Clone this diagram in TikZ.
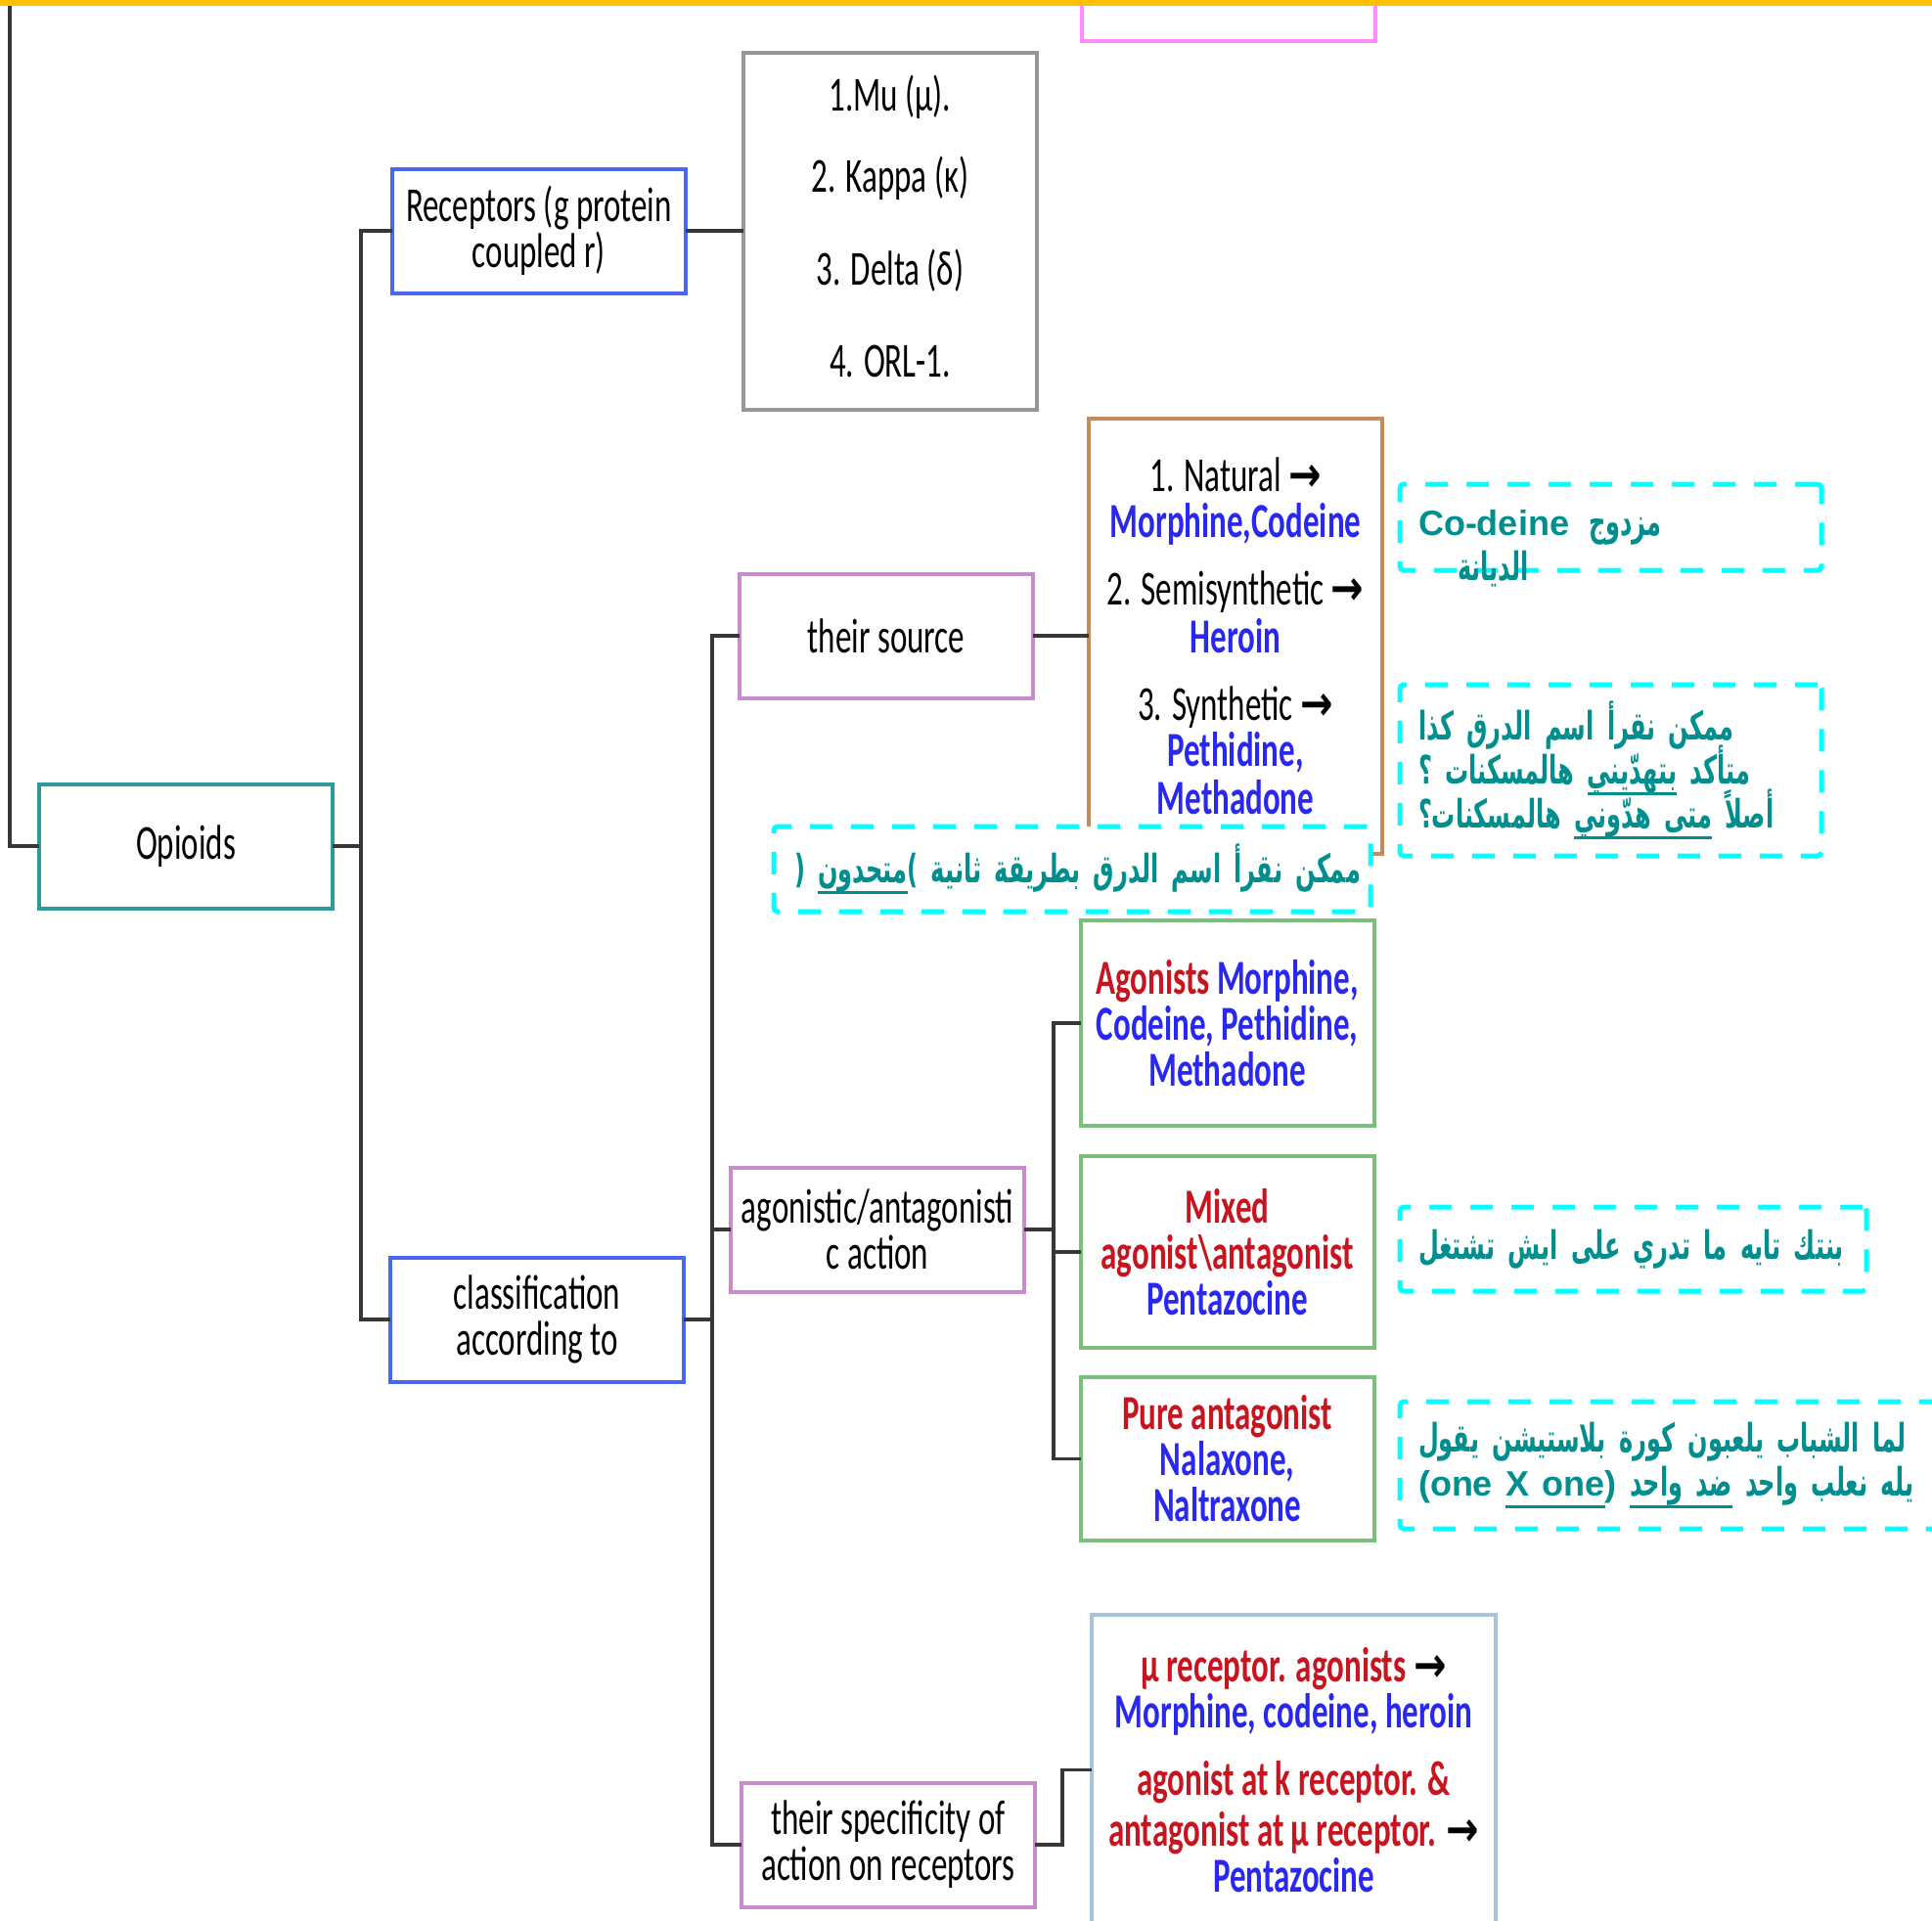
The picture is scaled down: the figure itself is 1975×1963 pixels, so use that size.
\documentclass[tikz,border=0pt]{standalone}
\usepackage{fontspec}
\usepackage{xcolor}
\usepackage{tikz}
\usetikzlibrary{positioning}
\setmainfont{Carlito}
\newfontfamily\boxfont[FakeStretch=0.66]{Carlito}
\newfontfamily\arrowfont[FakeStretch=0.8]{DejaVu Sans}
\newfontfamily\latinnote{Liberation Sans}
\newfontfamily\arabicfont[Script=Arabic, FakeStretch=0.6]{DejaVu Sans}
\TeXXeTstate=1

\definecolor{rootTeal}{RGB}{45,155,155}
\definecolor{catBlue}{RGB}{72,104,240}
\definecolor{critViolet}{RGB}{200,140,205}
\definecolor{listGray}{RGB}{150,150,150}
\definecolor{srcBrown}{RGB}{195,140,90}
\definecolor{actGreen}{RGB}{125,190,125}
\definecolor{specSteel}{RGB}{170,195,220}
\definecolor{topPink}{RGB}{255,140,255}
\definecolor{barYellow}{RGB}{255,192,0}
\definecolor{noteCyan}{RGB}{0,255,255}
\definecolor{noteTeal}{RGB}{0,142,142}
\definecolor{txtRed}{RGB}{200,20,30}
\definecolor{txtBlue}{RGB}{40,40,240}
\definecolor{linkGray}{RGB}{55,55,55}

\newcommand\boxtext{\boxfont\fontsize{50}{47}\selectfont\lineskiplimit=-60pt\relax}
\newcommand\notetextfont{\arabicfont\bfseries\fontsize{40}{45}\selectfont\lineskiplimit=-60pt\relax}
\newcommand\arr{{\arrowfont\bfseries →}}
\newcommand\effect[1]{\textcolor{txtRed}{\bfseries #1}}
\newcommand\drug[1]{\textcolor{txtBlue}{\bfseries #1}}
\newcommand\latin[1]{{\latinnote\fontsize{36}{45}\selectfont #1}}
\newcommand\up[1]{\raisebox{5pt}[\height][\depth]{#1}}
\newcommand\ulword[1]{\setbox0\hbox{#1}\vtop{\copy0\kern-\dp0\kern9pt\hrule height 3pt}}
\newcommand\rtlline[1]{\mbox{\beginR #1\endR}}

\tikzset{
    root/.style={
        rectangle, draw=rootTeal, line width=4pt,
        minimum width=300pt, minimum height=127pt,
        inner sep=4pt, outer sep=0pt, align=center, font=\boxtext
    },
    category/.style={root, draw=catBlue},
    criterion/.style={root, draw=critViolet},
    drugs/.style={
        rectangle, draw=#1, line width=4pt,
        minimum width=300pt, inner sep=4pt, outer sep=0pt,
        align=center, font=\boxtext
    },
    note/.style={
        rectangle, rounded corners=4pt, draw=noteCyan, fill=white,
        line width=5pt, dash pattern=on 23pt off 19pt,
        inner xsep=19pt, outer sep=0pt, align=left,
        text=noteTeal, font=\notetextfont
    },
    notetext/.style={inner sep=0pt, text=noteTeal, font=\notetextfont},
    link/.style={draw=linkGray, line width=3.5pt}
}

\begin{document}
\begin{tikzpicture}[x=1pt, y=-1pt]
\useasboundingbox (0,0) rectangle (1975,1963);

% Root and receptors
\node[root] (opioids) at (190,865) {Opioids};
\node[category] (receptors) at (551,236) {Receptors (g protein\\coupled r)};
\node[drugs=listGray, minimum height=365pt, right=59pt of receptors] (types)
    {\up{1.Mu (µ).}\\[36pt]\up{2. Kappa (κ)}\\[48pt]\up{3. Delta (δ)}\\[47pt]\up{4. ORL-1.}};
\node[category] (classif) at (549,1349) {classification\\according to};

% Criteria
\node[criterion] (source) at (906,650) {their source};
\node[drugs=srcBrown, minimum height=445pt, right=57pt of source] (origins)
    {1. Natural \arr\\\drug{Morphine,Codeine}\\[22pt]
     2. Semisynthetic \arr\\[2pt]\drug{Heroin}\\[22pt]
     3. Synthetic \arr\\\drug{Pethidine,}\\[2pt]\drug{Methadone}};
\node[criterion] (action) at (897,1257) {agonistic/antagonisti\\c action};
\node[drugs=actGreen, minimum height=210pt] (agonists) at (1254.5,1046)
    {\effect{Agonists} \drug{Morphine,}\\\drug{Codeine, Pethidine,}\\\drug{Methadone}};
\node[drugs=actGreen, minimum height=196pt, below=31pt of agonists] (mixed)
    {\effect{Mixed}\\\effect{agonist\textbackslash antagonist}\\\drug{Pentazocine}};
\node[drugs=actGreen, minimum height=167pt, below=30pt of mixed] (pure)
    {\effect{Pure antagonist}\\\drug{Nalaxone,}\\\drug{Naltraxone}};
\node[criterion] (specificity) at (908,1886) {their specificity of\\action on receptors};
\node[drugs=specSteel, minimum width=413pt, minimum height=317pt] (selective) at (1322.5,1809.5)
    {\effect{µ receptor. agonists} \arr\\\drug{Morphine, codeine, heroin}\\[22pt]
     \effect{agonist at k receptor. \&}\\[5pt]
     \effect{antagonist at µ receptor.} \arr\\\drug{Pentazocine}};

% Connectors
\coordinate (edge) at (10,0);
\draw[link] (edge) |- (opioids.west);
\draw[link] (opioids.east) -- ++(29,0) |- (receptors.west);
\draw[link] (opioids.east) -- ++(29,0) |- (classif.west);
\draw[link] (receptors.east) -- (types.west |- receptors.east);
\draw[link] (classif.east) -- ++(29,0) |- (source.west);
\draw[link] (classif.east) -- ++(29,0) |- (action.west);
\draw[link] (classif.east) -- ++(29,0) |- (specificity.west);
\draw[link] (source.east) -- (origins.west);
\draw[link] (action.east) -- ++(30,0) |- (agonists.west);
\draw[link] (action.east) -- ++(30,0) |- (mixed.west);
\draw[link] (action.east) -- ++(30,0) |- (pure.west);
\draw[link] (specificity.east) -- ++(28,0) |- (selective.west);

% Notes
\node[note, minimum width=431pt, text width=393pt, minimum height=88pt] (noteA) at (1646.5,539)
    {\mbox{\latin{Co-deine}\hspace{20pt}مزدوج}};
\node[notetext, anchor=base west] (noteAtail) at ([xshift=59pt, yshift=-10pt]noteA.south west) {الديانة};
\node[note, minimum width=431pt, text width=393pt, minimum height=175pt, below=117pt of noteA] (noteB)
    {\rtlline{ممكن نقرأ اسم الدرق كذا}\\
     \rtlline{متأكد \ulword{بتهدّيني} هالمسكنات ؟}\\
     \rtlline{أصلاً \ulword{\beginR متى هدّوني\endR} هالمسكنات؟}};
\node[note, minimum width=610pt, text width=568pt, minimum height=87pt] (noteC) at (1096,888.5)
    {\rtlline{ممكن نقرأ اسم الدرق بطريقة ثانية \hbox{)}\ulword{متحدون} \hbox{(}}};
\node[note, minimum width=477pt, text width=439pt, minimum height=86pt] (noteD) at (1669.5,1277)
    {\rtlline{بنتك تايه ما تدري على ايش تشتغل}};
\node[note, minimum width=600pt, text width=562pt, minimum height=130pt] (noteE) at (1731,1498)
    {\rtlline{لما الشباب يلعبون كورة بلاستيشن يقول}\\
     \rtlline{يله نعلب واحد \ulword{\beginR ضد واحد\endR} \latin{\beginL(one \ulword{X one})\endL}}};

% Top edge
\node[draw=topPink, line width=4pt, minimum width=300pt, minimum height=104pt] (topslot) at (1256,-10) {};
\fill[barYellow] (0,0) rectangle (1975,6);

\end{tikzpicture}
\end{document}
